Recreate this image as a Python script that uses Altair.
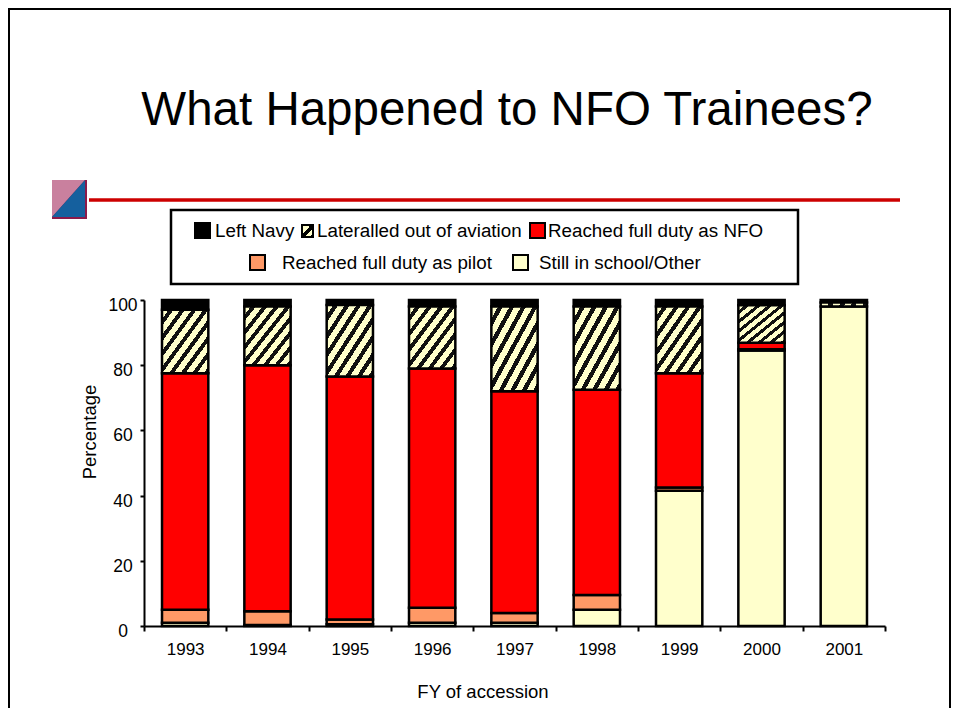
import altair as alt
import pandas as pd

# ---------------- data ----------------
years = ["1993", "1994", "1995", "1996", "1997", "1998", "1999", "2000", "2001"]
still_in_school = [1, 0.3, 0.5, 1, 1, 5, 41.5, 84.5, 98]
full_duty_pilot = [4, 4.2, 1.5, 4.6, 3, 4.5, 1, 0.4, 0]
full_duty_nfo = [72.5, 75.5, 74.5, 73.4, 68, 63, 35, 2, 0]
lateralled = [19.5, 18, 22, 19, 26, 25.5, 20.5, 11.5, 1.2]
left_navy = [3, 2, 1.5, 2, 2, 2, 2, 1.6, 0.8]

# stacking order bottom -> top
stack_names = ["Still in school/Other", "Reached full duty as pilot",
               "Reached full duty as NFO", "Lateralled out of aviation", "Left Navy"]
stack_values = [still_in_school, full_duty_pilot, full_duty_nfo, lateralled, left_navy]
y_ticks = [0, 20, 40, 60, 80, 100]

title_text = "What Happened to NFO Trainees?"
y_title = "Percentage"
x_title = "FY of accession"

# ---------------- styles ----------------
FONT = "Liberation Sans"
YELLOW = "#FFFFCC"
colors = {
    "Still in school/Other": YELLOW,
    "Reached full duty as pilot": "#FF9966",
    "Reached full duty as NFO": "#FF0000",
    "Lateralled out of aviation": YELLOW,
    "Left Navy": "#000000",
}


def hatch(n, duty=0.42, light=YELLOW, dark="#111111"):
    stops = []
    for i in range(n):
        s = i / n
        m = (i + 1 - duty) / n
        e = (i + 1) / n
        stops += [{"offset": round(s, 4), "color": light},
                  {"offset": round(m, 4), "color": light},
                  {"offset": round(m, 4), "color": dark},
                  {"offset": round(e, 4), "color": dark}]
    return {"gradient": "linear", "x1": 0, "y1": 0, "x2": 1, "y2": 1, "stops": stops}


HATCH = hatch(8)
HATCH_SWATCH = {"gradient": "linear", "x1": 0, "y1": 0, "x2": 1, "y2": 1,
                "stops": [{"offset": 0, "color": YELLOW}, {"offset": 0.4, "color": YELLOW},
                          {"offset": 0.4, "color": "#000"}, {"offset": 0.62, "color": "#000"},
                          {"offset": 0.62, "color": YELLOW}, {"offset": 0.86, "color": YELLOW},
                          {"offset": 0.86, "color": "#000"}, {"offset": 1, "color": "#000"}]}

# plot-area origin in page pixels
OX, OY = 144, 300
PW, PH = 741, 326
CANVAS_W, CANVAS_H = 943, 700


def px(x):
    return x - OX


def py(y):
    return y - OY


# ---------------- table ----------------
rows = []
for i, yr in enumerate(years):
    cum = 0.0
    for name, vals in zip(stack_names, stack_values):
        v = vals[i]
        if v > 0:
            rows.append({"year": yr, "cat": name, "y0": cum, "y1": cum + v})
        cum += v
df = pd.DataFrame(rows)
dummy = pd.DataFrame({"k": [0]})

xenc = alt.X("year:O", sort=years,
             scale=alt.Scale(paddingInner=0, paddingOuter=0),
             axis=alt.Axis(title=None, labelAngle=0, tickBand="extent",
                           labelFont=FONT, labelFontSize=17, labelColor="black",
                           labelPadding=10, tickSize=5, tickWidth=2, tickColor="black",
                           domainColor="black", domainWidth=2, grid=False))
yenc = alt.Y("y0:Q", scale=alt.Scale(domain=[0, 100], nice=False, zero=True),
             axis=alt.Axis(title=None, values=y_ticks, grid=False,
                           labelFont=FONT, labelFontSize=17.5, labelColor="black",
                           labelAlign="center", labelBaseline="middle",
                           labelPadding=17.5, labelOffset=5.5,
                           tickSize=4, tickWidth=2, tickColor="black",
                           domainColor="black", domainWidth=2))

BAR_W = alt.RelativeBandSize(band=0.5625)

solid = alt.Chart(df).transform_filter(
    alt.datum.cat != "Lateralled out of aviation"
).mark_bar(stroke="black", strokeWidth=2.5, width=BAR_W).encode(
    x=xenc, y=yenc, y2="y1:Q",
    fill=alt.Fill("cat:N", scale=alt.Scale(domain=list(colors.keys()),
                                           range=list(colors.values())), legend=None),
)
hatched = alt.Chart(df).transform_filter(
    alt.datum.cat == "Lateralled out of aviation"
).mark_bar(stroke="black", strokeWidth=2.5, width=BAR_W, fill=HATCH).encode(
    x=alt.X("year:O", sort=years), y="y0:Q", y2="y1:Q",
)

deco = alt.Chart(dummy)

# slide border (left, top, right)
border = [
    deco.mark_rule(color="black", strokeWidth=2).encode(
        x=alt.value(px(9)), y=alt.value(py(8)), y2=alt.value(py(760))),
    deco.mark_rule(color="black", strokeWidth=2).encode(
        x=alt.value(px(8)), x2=alt.value(px(952)), y=alt.value(py(9))),
    deco.mark_rule(color="black", strokeWidth=2).encode(
        x=alt.value(px(950)), y=alt.value(py(8)), y2=alt.value(py(760))),
]

title = deco.mark_text(font=FONT, fontSize=47.5, align="center", baseline="alphabetic",
                       color="black").encode(
    x=alt.value(px(507)), y=alt.value(py(125)), text=alt.value(title_text))

red_line = deco.mark_rule(color="#CC0000", strokeWidth=3.3).encode(
    x=alt.value(px(89)), x2=alt.value(px(900)), y=alt.value(py(200)))

# small slide icon
icon_r = 16.5
icon = [
    deco.mark_rect(fill="#8B1A4A").encode(
        x=alt.value(px(52)), x2=alt.value(px(87)), y=alt.value(py(180)), y2=alt.value(py(219))),
    deco.mark_point(shape="M-1,-1.121 L1,-1.121 L-1,1.121 Z", filled=True, opacity=1,
                    fill="#C9809E", strokeWidth=0).encode(
        x=alt.value(px(68.5)), y=alt.value(py(198.5)), size=alt.value((2 * icon_r) ** 2)),
    deco.mark_point(shape="M1,-1.121 L1,1.121 L-1,1.121 Z", filled=True, opacity=1,
                    fill="#15609E", strokeWidth=0).encode(
        x=alt.value(px(68.5)), y=alt.value(py(198.5)), size=alt.value((2 * icon_r) ** 2)),
]

# legend box and entries
legend_box = deco.mark_rect(fill="white", stroke="black", strokeWidth=2.5).encode(
    x=alt.value(px(171)), x2=alt.value(px(798)), y=alt.value(py(210)), y2=alt.value(py(284)))

legend_order = ["Left Navy", "Lateralled out of aviation", "Reached full duty as NFO",
                "Reached full duty as pilot", "Still in school/Other"]
# (swatch x0, x1, y0, y1, text x, text y) in page pixels
legend_layout = {
    "Left Navy": (195, 210, 223, 238, 215, 231.2),
    "Lateralled out of aviation": (302, 313, 225, 237, 317, 231.2),
    "Reached full duty as NFO": (530, 545, 223, 238, 548, 231.2),
    "Reached full duty as pilot": (250, 265, 255, 270, 282, 262.8),
    "Still in school/Other": (513, 528, 255, 270, 539, 262.8),
}
legend_layers = []
for name in legend_order:
    x0, x1, y0, y1, tx, ty = legend_layout[name]
    fill = HATCH_SWATCH if name == "Lateralled out of aviation" else colors[name]
    legend_layers.append(deco.mark_rect(fill=fill, stroke="black", strokeWidth=2).encode(
        x=alt.value(px(x0)), x2=alt.value(px(x1)), y=alt.value(py(y0)), y2=alt.value(py(y1))))
    legend_layers.append(deco.mark_text(font=FONT, fontSize=18.8, align="left",
                                        baseline="middle", color="black").encode(
        x=alt.value(px(tx)), y=alt.value(py(ty)), text=alt.value(name)))

ytitle = deco.mark_text(font=FONT, fontSize=18.5, align="center", baseline="middle",
                        angle=270, color="black").encode(
    x=alt.value(px(90)), y=alt.value(py(432)), text=alt.value(y_title))
xtitle = deco.mark_text(font=FONT, fontSize=18.5, align="center", baseline="alphabetic",
                        color="black").encode(
    x=alt.value(px(483)), y=alt.value(py(698)), text=alt.value(x_title))

chart = alt.layer(
    solid, hatched, *border, title, red_line, *icon, legend_box, *legend_layers,
    ytitle, xtitle,
).properties(
    width=PW, height=PH,
    autosize=alt.AutoSizeParams(type="none"),
    padding={"left": OX - 8, "top": OY - 8, "right": CANVAS_W - (OX - 8) - PW,
             "bottom": CANVAS_H - (OY - 8) - PH},
    background="white",
).configure_view(stroke=None)

chart.save("out.html", embed_options={"renderer": "svg", "actions": False})
